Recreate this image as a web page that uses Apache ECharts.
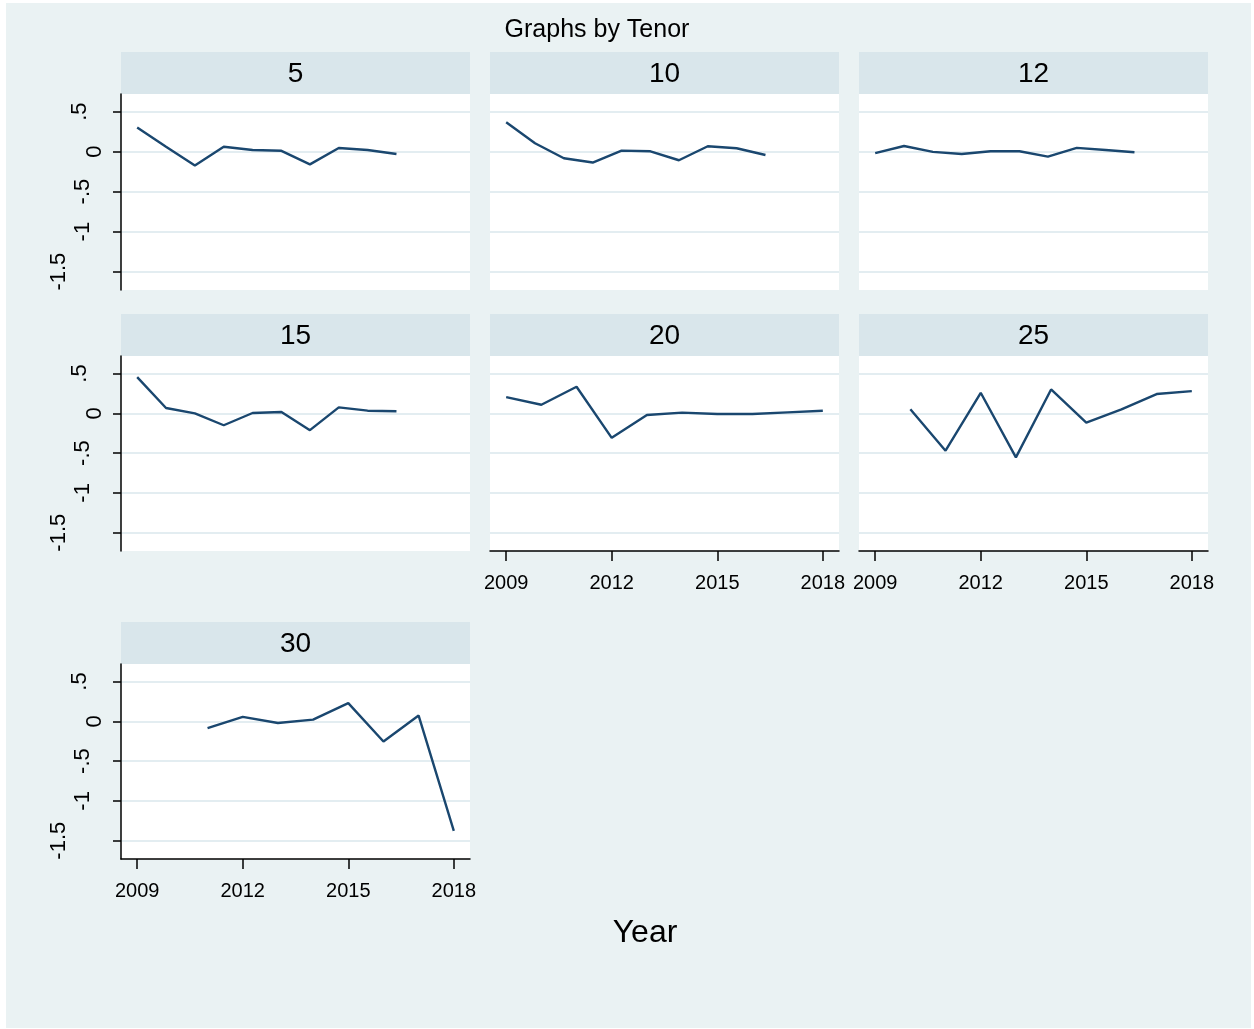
<!DOCTYPE html>
<html>
<head>
<meta charset="utf-8">
<script src="https://cdn.jsdelivr.net/npm/echarts@6/dist/echarts.min.js"></script>
<style>
  html, body { margin: 0; padding: 0; background: #fff; }
  #chart { width: 1254px; height: 1029px; }
</style>
</head>
<body>
<div id="chart"></div>
<script>
// panel names (Tenor)
var tenors = ['5', '10', '12', '15', '20', '25', '30'];

// x positions used by the first four panels (10 obs each)
var xShort = [2009, 2009.82, 2010.64, 2011.46, 2012.28, 2013.1, 2013.91, 2014.73, 2015.55, 2016.37];
var years20 = [2009, 2010, 2011, 2012, 2013, 2014, 2015, 2016, 2017, 2018];
var years25 = [2010, 2011, 2012, 2013, 2014, 2015, 2016, 2017, 2018];
var years30 = [2011, 2012, 2013, 2014, 2015, 2016, 2017, 2018];

var v5  = [0.30, 0.06, -0.175, 0.06, 0.02, 0.01, -0.16, 0.045, 0.02, -0.03];
var v10 = [0.367, 0.104, -0.083, -0.137, 0.012, 0.004, -0.108, 0.067, 0.042, -0.042];
var v12 = [-0.02, 0.07, -0.004, -0.03, 0.004, 0.004, -0.062, 0.046, 0.02, -0.008];
var v15 = [0.454, 0.067, 0, -0.15, 0.004, 0.017, -0.212, 0.075, 0.033, 0.025];
var v20 = [0.204, 0.108, 0.333, -0.308, -0.021, 0.008, -0.008, -0.008, 0.012, 0.033];
var v25 = [0.05, -0.47, 0.258, -0.554, 0.30, -0.117, 0.05, 0.242, 0.279];
var v30 = [-0.085, 0.055, -0.021, 0.021, 0.229, -0.254, 0.072, -1.377];

var yTicks = [-1.5, -1, -0.5, 0, 0.5];
var xTicks = [2009, 2012, 2015, 2018];

var xs = [xShort, xShort, xShort, xShort, years20, years25, years30];
var vals = [v5, v10, v12, v15, v20, v25, v30];

// panel layout
var colLeft = [121, 490, 859];
var rowTop = [94, 356, 664];
var rowH = [196, 195, 195];
var panelW = 349;
var headH = 42;

var BG = '#eaf2f3';
var HEAD = '#d9e6eb';
var NAVY = '#1a476f';
var FONT = 'Liberation Sans';

// stata draws the rotated y labels at uneven distances from the axis
var yLabKey = { '.5': 'a', '0': 'b', '-.5': 'c', '-1': 'd', '-1.5': 'e' };
var yLabPad = { a: 15, b: 0, c: 12, d: 12, e: 36 };
var yRich = {};
for (var key in yLabPad) {
  yRich[key] = { fontSize: 22, fontFamily: FONT, color: '#000', padding: [0, 0, yLabPad[key], 0] };
}

function fmtY(v) {
  var s = (v === 0) ? '0' : String(v).replace('0.', '.');
  return '{' + yLabKey[s] + '|' + s + '}';
}

function buildOption() {
  var grids = [], xAxes = [], yAxes = [], series = [];
  var graphic = [
    { type: 'rect', z: -10, shape: { x: 6, y: 3, width: 1245, height: 1025 }, style: { fill: BG } },
    { type: 'text', x: 597, y: 30, style: { text: 'Graphs by Tenor', fill: '#000', fontSize: 25, fontFamily: FONT, align: 'center', verticalAlign: 'middle' } },
    { type: 'text', x: 645, y: 933, style: { text: 'Year', fill: '#000', fontSize: 32, fontFamily: FONT, align: 'center', verticalAlign: 'middle' } }
  ];

  for (var i = 0; i < tenors.length; i++) {
    var r = Math.floor(i / 3), c = i % 3;
    var gx = colLeft[c], gy = rowTop[r], gh = rowH[r];
    var showX = (i >= 4);     // bottom panel of each column
    var showY = (c === 0);

    grids.push({ left: gx, top: gy, width: panelW, height: gh, show: true, backgroundColor: '#fff', borderWidth: 0 });

    graphic.push({ type: 'rect', z: -5, shape: { x: gx, y: gy - headH, width: panelW, height: headH }, style: { fill: HEAD } });
    graphic.push({ type: 'text', x: gx + panelW / 2, y: gy - headH / 2 + 1, style: { text: tenors[i], fill: '#000', fontSize: 28, fontFamily: FONT, align: 'center', verticalAlign: 'middle' } });

    xAxes.push({
      type: 'value', gridIndex: i, min: 2008.54, max: 2018.46,
      axisLine: { show: showX, onZero: false, lineStyle: { color: '#000', width: 1.5 } },
      axisTick: { show: showX, length: 10, customValues: xTicks, lineStyle: { color: '#000', width: 1.5 } },
      axisLabel: { show: showX, customValues: xTicks, margin: 22, color: '#000', fontSize: 20, fontFamily: FONT, formatter: function (v) { return String(v); } },
      splitLine: { show: false }
    });

    yAxes.push({
      type: 'value', gridIndex: i, min: -1.73, max: 0.72,
      axisLine: { show: showY, lineStyle: { color: '#000', width: 1.5 } },
      axisTick: { show: showY, length: 8, customValues: yTicks, lineStyle: { color: '#000', width: 1.5 } },
      axisLabel: { show: showY, customValues: yTicks, rotate: 90, margin: 15, color: '#000', fontSize: 22, fontFamily: FONT, formatter: fmtY, rich: yRich },
      splitLine: { show: true, lineStyle: { color: '#e3edf1', width: 2 } }
    });

    var pts = [];
    for (var k = 0; k < vals[i].length; k++) pts.push([xs[i][k], vals[i][k]]);

    series.push({
      type: 'line', xAxisIndex: i, yAxisIndex: i, data: pts,
      showSymbol: false, silent: true,
      lineStyle: { color: NAVY, width: 2.4 }
    });
  }

  return { backgroundColor: '#fff', animation: false, grid: grids, xAxis: xAxes, yAxis: yAxes, series: series, graphic: graphic };
}

var chart = echarts.init(document.getElementById('chart'));
chart.setOption(buildOption());
</script>
</body>
</html>
